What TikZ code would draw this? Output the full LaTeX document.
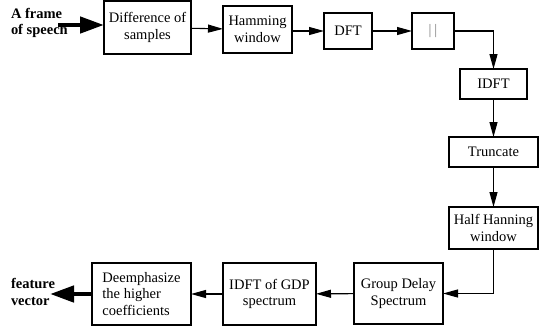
\documentclass[tikz,border=0pt]{standalone}
\usepackage{fontspec}
\setmainfont{Liberation Serif}
\usetikzlibrary{arrows.meta}

\begin{document}
\begin{tikzpicture}[x=1pt, y=-1pt, inner sep=0, outer sep=0,
    line width=1.1pt,
    font=\fontsize{14.5}{16.7}\selectfont,
    blk/.style={rectangle, draw=black, align=center},
    flow/.style={-{Triangle[length=15pt, width=8pt]}},
    bigflow/.style={-{Triangle[length=24pt, width=16pt]}, line width=4.5pt}]
  \useasboundingbox (0, 0) rectangle (539, 330);

  % top row
  \node[blk, minimum width=87pt, minimum height=53pt] (diff) at (147.5, 27.5) {Difference of\\samples};
  \node[blk, minimum width=69pt, minimum height=47pt] (hamm) at (257.5, 29.5) {Hamming\\window};
  \node[blk, minimum width=48pt, minimum height=36pt] (dft) at (348, 31) {DFT};
  \node[blk, minimum width=42pt, minimum height=36pt, text=gray] (mag) at (433, 31) {|\hspace{3pt}|};

  % right column
  \node[blk, minimum width=67pt, minimum height=30pt] (idft) at (493.5, 84) {IDFT};
  \node[blk, minimum width=89pt, minimum height=30pt] (trunc) at (493.5, 152) {Truncate};
  \node[blk, minimum width=89pt, minimum height=42pt] (hhw) at (493.5, 228) {Half Hanning\\window};

  % bottom row
  \node[blk, minimum width=89pt, minimum height=61pt] (gds) at (398.5, 293.5) {Group Delay\\Spectrum};
  \node[blk, minimum width=93pt, minimum height=62pt] (igdp) at (269.5, 294) {IDFT of GDP\\spectrum};
  \node[blk, minimum width=99pt, minimum height=62pt, align=left] (deem) at (141.5, 294) {Deemphasize\\the higher\\coefficients};

  % input and output
  \node[anchor=west, align=left, font=\fontsize{14.5}{16.7}\selectfont\bfseries] (frame) at (11, 23) {A frame\\of speech};
  \node[anchor=west, align=left, font=\fontsize{14.5}{16.7}\selectfont\bfseries] (feat) at (11, 292) {feature\\vector};
  \coordinate (in) at (58, 25);
  \coordinate (out) at (50, 294);

  \draw[bigflow] (in) -- (in -| diff.west);
  \draw[flow] (diff) -- (hamm);
  \draw[flow] (hamm.east |- dft) -- (dft);
  \draw[flow] (dft) -- (mag);
  \draw[flow] (mag.east) -| (idft.north);
  \draw[flow] (idft) -- (trunc);
  \draw[flow] (trunc) -- (hhw);
  \draw[flow] (hhw.south) |- (gds.east);
  \draw[flow] (gds) -- (igdp);
  \draw[flow] (igdp) -- (deem);
  \draw[bigflow] (deem.west) -- (out);
\end{tikzpicture}
\end{document}
